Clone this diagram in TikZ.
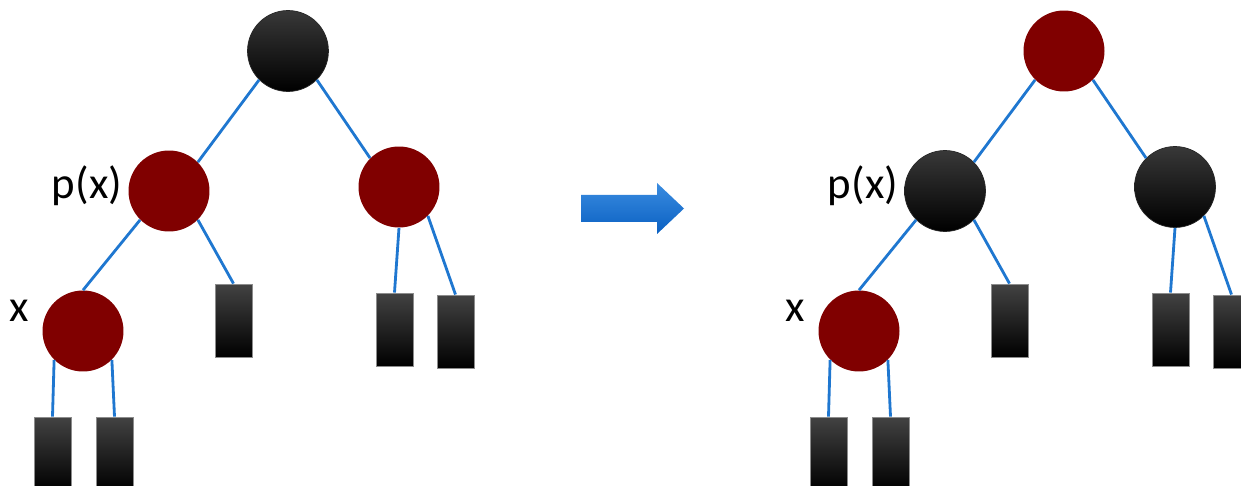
\documentclass[tikz,border=0pt]{standalone}
\usepackage{fontspec}
\setmainfont{Carlito}
\usetikzlibrary{positioning}
\definecolor{DarkRed}{HTML}{800000}
\definecolor{EdgeBlue}{HTML}{1F77D0}
\definecolor{ArrowTop}{HTML}{3A8CE0}
\definecolor{ArrowBottom}{HTML}{0A60C2}

\begin{document}
\begin{tikzpicture}[x=0.02cm, y=-0.02cm,
  blacknode/.style={circle, minimum size=1.62cm, inner sep=0pt, draw=black!85,
    line width=0.4pt, top color=black!78, middle color=black, bottom color=black},
  rednode/.style={circle, minimum size=1.62cm, inner sep=0pt, fill=DarkRed},
  leaf/.style={rectangle, minimum width=0.74cm, minimum height=1.46cm, inner sep=0pt,
    draw=black!45, line width=0.5pt, top color=black!74, middle color=black, bottom color=black},
  link/.style={EdgeBlue, line width=1.6pt},
  lbl/.style={font=\fontsize{25.5}{30}\selectfont, inner sep=0pt}]

  \useasboundingbox (0,0) rectangle (1241,486);

  % before (L) and after (R) recolouring
  \foreach \dx/\topc/\midc/\t in {0/blacknode/rednode/L, 776/rednode/blacknode/R}{%
    \begin{scope}[shift={(\dx,0)}]
      \node[\topc] (root\t) at (288,51) {};
      \node[\midc] (px\t)   at (169,191) {};
      \node[\midc] (sib\t)  at (399,187) {};
      \node[rednode] (x\t)  at (83,331) {};

      \node[leaf] (pleaf\t) at (233.5,320.5) {};
      \node[leaf] (sl1\t)   at (394.5,329.5) {};
      \node[leaf] (sl2\t)   at (455.5,331.5) {};
      \node[leaf] (xl1\t)   at (52.5,453.5) {};
      \node[leaf] (xl2\t)   at (114.5,453.5) {};

      \node[lbl] (lblpx\t) at (87,186) {p(x)};
      \node[lbl] (lblx\t)  at (19,311) {x};

      \draw[link] (root\t.south west) -- (px\t.north east);
      \draw[link] (root\t.south east) -- (sib\t.north west);
      \draw[link] (px\t.south west) -- (x\t.north);
      \draw[link] (px\t.south east) -- (pleaf\t.north);
      \draw[link] (sib\t.south) -- (sl1\t.north);
      \draw[link] (sib\t.south east) -- (sl2\t.north);
      \draw[link] (x\t.south west) -- (xl1\t.north);
      \draw[link] (x\t.south east) -- (xl2\t.north);
    \end{scope}
  }

  \shade[top color=ArrowTop, bottom color=ArrowBottom]
    (581,195) -- (657,195) -- (657,183) -- (684,208.5)
    -- (657,234) -- (657,222) -- (581,222) -- cycle;
\end{tikzpicture}
\end{document}
